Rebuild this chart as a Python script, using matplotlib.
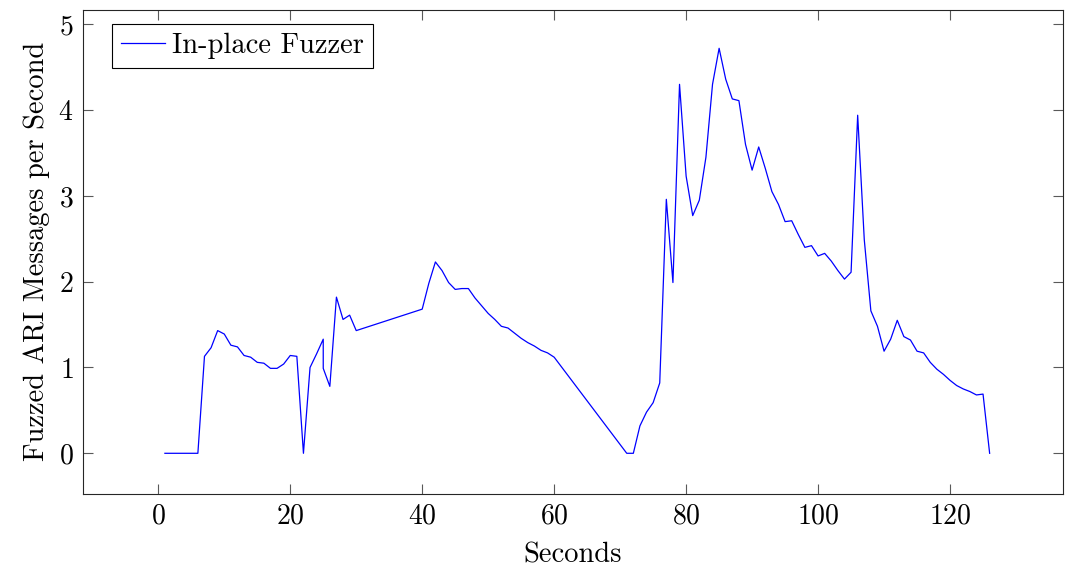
import matplotlib.pyplot as plt
import numpy as np

# Datos
segundos = [1, 2, 3, 4, 5, 6, 7, 8, 9, 10, 11, 12, 13, 14, 15, 16, 17, 18, 19, 20,
            21, 22, 23, 24, 25, 25, 26, 27, 28, 29, 30, 40, 41, 42, 43, 44, 45, 46, 47,
            48, 49, 50, 51, 52, 53, 54, 55, 56, 57, 58, 59, 60, 71, 72, 73, 74, 75, 76,
            77, 78, 79, 80, 81, 82, 83, 84, 85, 86, 87, 88, 89, 90, 91, 92, 93, 94, 95,
            96, 97, 98, 99, 100, 101, 102, 103, 104, 105, 106, 107, 108, 109, 110, 111,
            112, 113, 114, 115, 116, 117, 118, 119, 120, 121, 122, 123, 124, 125, 126]
mensajes = [0, 0, 0, 0, 0, 0, 1.13, 1.23, 1.43, 1.39, 1.26, 1.24, 1.14, 1.12, 1.06, 1.05,
            0.99, 0.99, 1.04, 1.14, 1.13, 0.0, 1.0, 1.16, 1.33, 0.99, 0.78, 1.82, 1.56, 1.61,
            1.43, 1.68, 1.98, 2.23, 2.13, 1.99, 1.91, 1.92, 1.92, 1.81, 1.72, 1.63, 1.56,
            1.48, 1.46, 1.40, 1.34, 1.29, 1.25, 1.20, 1.17, 1.12, 0.0, 0.0, 0.32, 0.48,
            0.59, 0.82, 2.96, 1.99, 4.30, 3.23, 2.77, 2.95, 3.45, 4.30, 4.72, 4.36, 4.13,
            4.11, 3.60, 3.30, 3.57, 3.32, 3.05, 2.90, 2.70, 2.71, 2.55, 2.40, 2.42, 2.30,
            2.33, 2.24, 2.13, 2.03, 2.11, 3.94, 2.49, 1.66, 1.48, 1.19, 1.33, 1.55, 1.36,
            1.32, 1.19, 1.17, 1.06, 0.98, 0.92, 0.85, 0.79, 0.75, 0.72, 0.68, 0.69, 0.0]
x_ticks = [0, 20, 40, 60, 80, 100, 120]
y_ticks = [0, 1, 2, 3, 4, 5]

plt.rcParams['font.family'] = 'serif'
plt.rcParams['font.serif'] = ['cmr10']
plt.rcParams['mathtext.fontset'] = 'cm'
plt.rcParams['axes.formatter.use_mathtext'] = True

fig = plt.figure(figsize=(10.65, 5.7), dpi=100)
ax = fig.add_axes([0.078, 0.134, 0.92, 0.849])

ax.plot(segundos, mensajes, color='blue', linewidth=0.9, label='In-place Fuzzer')

ax.set_xlim(-11.4, 137.1)
ax.set_ylim(-0.47, 5.17)
ax.set_xticks(x_ticks)
ax.set_yticks(y_ticks)
ax.tick_params(direction='in', length=7, width=0.8, color='0.35',
               top=True, right=True, labelsize=20, pad=7)
for s in ax.spines.values():
    s.set_linewidth(0.8)
    s.set_color('0.15')

ax.set_xlabel('Seconds', fontsize=20.5, labelpad=9)
ax.set_ylabel('Fuzzed ARI Messages per Second', fontsize=20.5, labelpad=6)

leg = ax.legend(loc='upper left', bbox_to_anchor=(0.03, 0.97), borderaxespad=0,
                fontsize=20.5, fancybox=False, edgecolor='black',
                handlelength=1.55, handletextpad=0.25, borderpad=0.3, framealpha=1)
leg.get_frame().set_linewidth(0.8)

plt.savefig('out.png', dpi=100)
plt.close()
